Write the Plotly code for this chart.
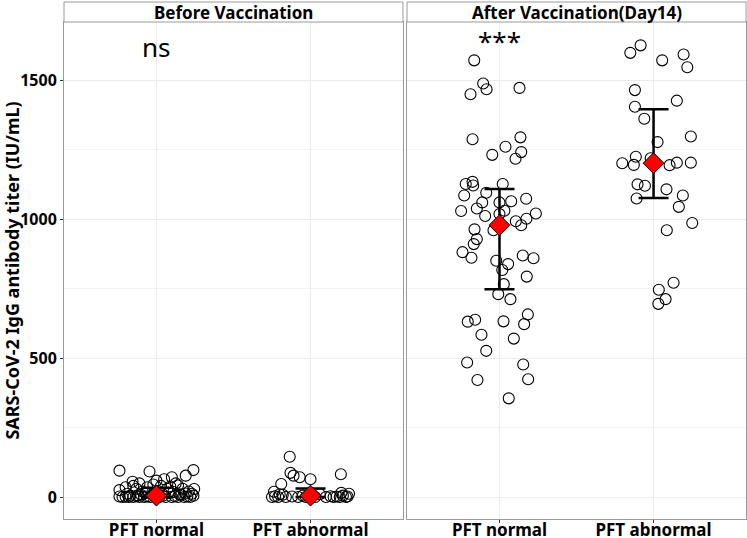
import plotly.graph_objects as go

# 分組與標籤
groups = ["PFT normal", "PFT abnormal"]
panels = ["Before Vaccination", "After Vaccination(Day14)"]
signif = ["ns", "***"]

# Before vaccination：PFT normal（jitter 偏移, 抗體值）
before_normal_jitter = [
    -0.24, -0.045, 0.24, 0.19, 0.10, 0.05, 0.0, -0.155, -0.11, 0.125, -0.24, 0.245,
    -0.20, -0.15, -0.13, -0.09, -0.06, -0.02, 0.03, 0.07, 0.09, 0.14, 0.17, 0.21, 0.23,
    -0.24, -0.22, -0.20, -0.18, -0.17, -0.15, -0.13, -0.11, -0.10, -0.08, -0.06, -0.04,
    -0.02, 0.02, 0.04, 0.06, 0.08, 0.10, 0.12, 0.14, 0.16, 0.18, 0.20, 0.22, 0.24,
    -0.19, -0.07, 0.11, 0.15, -0.12, 0.19, 0.01,
]
before_normal_titer = [
    95, 92, 97, 77, 71, 64, 59, 55, 49, 49, 25, 29,
    35, 40, 30, 20, 35, 45, 40, 30, 38, 42, 30, 20, 12,
    2, 0, 1, 0, 5, 0, 3, 0, 8, 0, 2, 0,
    10, 0, 4, 0, 15, 0, 3, 0, 8, 0, 2, 0, 5,
    12, 14, 18, 10, 6, 13, 22,
]

# Before vaccination：PFT abnormal
before_abnormal_jitter = [
    -0.135, -0.13, -0.11, -0.07, 0.0, 0.197, -0.19, -0.237,
    -0.25, -0.23, -0.21, -0.18, -0.16, -0.12, -0.08, -0.05, -0.03, 0.03, 0.06,
    0.10, 0.13, 0.15, 0.17, 0.19, 0.21, 0.23, 0.25, 0.20, -0.20, 0.24,
]
before_abnormal_titer = [
    145, 87, 77, 71, 64, 82, 47, 19,
    0, 3, 0, 8, 0, 2, 0, 5, 0, 0, 10,
    0, 3, 0, 2, 0, 5, 0, 12, 15, 10, 2,
]

# After vaccination (Day14)：PFT normal
after_normal_jitter = [
    -0.164, -0.106, -0.084, -0.188, 0.130, -0.175, 0.136, 0.039, -0.047, 0.141,
    0.104, -0.219, -0.175, -0.171, 0.021, -0.229, -0.086, -0.112, 0.0, 0.076,
    0.173, -0.249, -0.147, 0.0, 0.032, -0.093, 0.236, 0.106, 0.141, 0.175,
    -0.162, -0.039, -0.147, -0.167, -0.240, -0.182, 0.151, 0.221, -0.021, 0.056,
    0.018, 0.177, 0.028, -0.008, 0.071, 0.184, -0.206, -0.158, 0.026, 0.160,
    -0.117, 0.093, -0.086, -0.210, 0.154, -0.143, 0.186, 0.060,
]
after_normal_titer = [
    1571, 1488, 1467, 1449, 1472, 1287, 1294, 1260, 1231, 1241,
    1217, 1126, 1134, 1121, 1126, 1085, 1095, 1060, 1060, 1064,
    1073, 1029, 1038, 1018, 1030, 1011, 1020, 992, 978, 1001,
    963, 960, 928, 910, 881, 861, 869, 859, 850, 838,
    817, 793, 766, 730, 712, 657, 631, 638, 632, 622,
    584, 570, 526, 484, 477, 421, 424, 355,
]

# After vaccination (Day14)：PFT abnormal
after_abnormal_jitter = [
    -0.084, -0.151, 0.195, 0.056, 0.219, -0.121, 0.151, -0.121, -0.060, 0.242,
    0.026, -0.115, -0.019, -0.203, -0.128, 0.104, 0.151, 0.242, -0.104, -0.056,
    0.084, -0.110, 0.190, 0.164, 0.251, 0.086, 0.130, 0.034, 0.078, 0.031,
]
after_abnormal_titer = [
    1625, 1598, 1592, 1571, 1546, 1464, 1426, 1404, 1361, 1297,
    1277, 1224, 1219, 1201, 1195, 1194, 1203, 1203, 1125, 1120,
    1107, 1074, 1085, 1044, 986, 960, 771, 746, 712, 695,
]

# 摘要：中心點與上下界（依 groups 順序）
before_center = [5, 5]
before_lower = [0, 0]
before_upper = [33, 31]
after_center = [978, 1201]
after_lower = [748, 1076]
after_upper = [1108, 1395]

FONT = "Noto Sans"
BORDER = "#9a9a9a"
GRID = "#ebebeb"

panel_data = [
    ([before_normal_jitter, before_abnormal_jitter],
     [before_normal_titer, before_abnormal_titer],
     before_center, before_lower, before_upper),
    ([after_normal_jitter, after_abnormal_jitter],
     [after_normal_titer, after_abnormal_titer],
     after_center, after_lower, after_upper),
]

fig = go.Figure()

for p, (jitters, titers, center, lower, upper) in enumerate(panel_data):
    xa = "x" if p == 0 else "x2"
    ya = "y" if p == 0 else "y2"
    for g, (jit, vals) in enumerate(zip(jitters, titers)):
        fig.add_trace(go.Scatter(
            x=[g + 1 + j for j in jit], y=vals, xaxis=xa, yaxis=ya,
            mode="markers", showlegend=False, hoverinfo="y",
            marker=dict(symbol="circle-open", size=11, color="black",
                        line=dict(width=1.1, color="black")),
        ))
    fig.add_trace(go.Scatter(
        x=[i + 1 for i in range(len(groups))], y=center, xaxis=xa, yaxis=ya,
        mode="markers", showlegend=False,
        error_y=dict(type="data", symmetric=False,
                     array=[u - c for u, c in zip(upper, center)],
                     arrayminus=[c - l for c, l in zip(center, lower)],
                     color="black", thickness=2.5, width=15),
        marker=dict(symbol="diamond", size=16, color="red",
                    line=dict(width=1, color="black")),
    ))

Y_RANGE = [-79, 1709]
PANEL_TOP = 0.9613

axis_common = dict(
    range=[0.4, 2.6], tickvals=[1, 2], ticktext=groups, automargin=False,
    showgrid=True, gridcolor=GRID, gridwidth=1,
    showline=True, linecolor=BORDER, linewidth=1, mirror=True,
    ticks="outside", ticklen=3, tickcolor="#333333", ticklabelstandoff=-7,
    tickfont=dict(family=FONT, size=17, color="black", weight="bold"),
    zeroline=False,
)
yaxis_common = dict(
    range=Y_RANGE, tickvals=[0, 500, 1000, 1500], automargin=False,
    showgrid=True, gridcolor=GRID, gridwidth=1,
    minor=dict(tickvals=[250, 750, 1250], showgrid=True, gridcolor="#f3f3f3", gridwidth=0.6),
    showline=True, linecolor=BORDER, linewidth=1, mirror=True,
    zeroline=False, domain=[0, PANEL_TOP],
)

fig.update_layout(
    width=747, height=538,
    margin=dict(l=64, r=1, t=2, b=19),
    paper_bgcolor="white", plot_bgcolor="white",
    font=dict(family=FONT, color="black"),
    xaxis=dict(domain=[0, 0.497], anchor="y", **axis_common),
    xaxis2=dict(domain=[0.503, 1], anchor="y2", **axis_common),
    yaxis=dict(anchor="x", ticks="outside", ticklen=3, tickcolor="#333333",
               tickfont=dict(family=FONT, size=16, color="black", weight="bold"),
               title=dict(text="SARS-CoV-2 IgG antibody titer (IU/mL)", standoff=7,
                          font=dict(family=FONT, size=18, color="black", weight="bold")),
               **yaxis_common),
    yaxis2=dict(anchor="x2", matches="y", showticklabels=False, ticks="", **yaxis_common),
)

# 面板標題條
for p, (x0, x1) in enumerate([(0, 0.497), (0.503, 1)]):
    fig.add_shape(type="rect", xref="paper", yref="paper",
                  x0=x0, x1=x1, y0=PANEL_TOP, y1=1,
                  fillcolor="white", line=dict(color=BORDER, width=1))
    fig.add_annotation(xref="paper", yref="paper", x=(x0 + x1) / 2, y=(PANEL_TOP + 1) / 2,
                       text=panels[p], showarrow=False, xanchor="center", yanchor="middle",
                       font=dict(family=FONT, size=17, color="black", weight="bold"))

# 顯著性標記
fig.add_annotation(xref="x", yref="y", x=1, y=1620, text=signif[0], showarrow=False,
                   font=dict(family=FONT, size=26, color="black"))
fig.add_annotation(xref="x2", yref="y2", x=1, y=1640, text=signif[1], showarrow=False,
                   font=dict(family=FONT, size=26, color="black"))

# 頁面預設 body margin 會把圖往右下推，歸零
fig.write_html("out.html", config={"displayModeBar": False},
               post_script="document.body.style.margin = '0';")
